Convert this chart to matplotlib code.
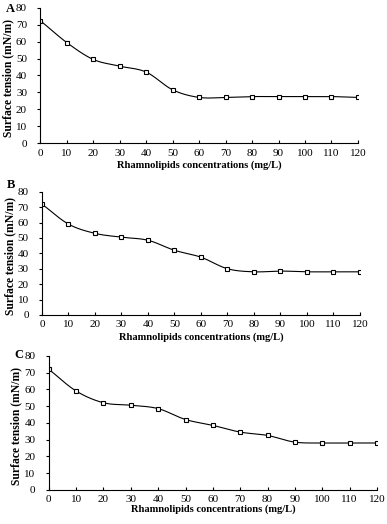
import numpy as np
import matplotlib.pyplot as plt
import matplotlib.transforms as mtransforms

plt.rcParams['font.family'] = ['Liberation Serif', 'DejaVu Serif']

conc = [0, 10, 20, 30, 40, 50, 60, 70, 80, 90, 100, 110, 120]
tension_a = [72.5, 59.5, 49.5, 45.5, 42, 31.5, 27, 27, 27.5, 27.5, 27.5, 27.5, 27]
tension_b = [72, 59, 53, 50.5, 48.5, 42, 37.5, 30, 28, 28.5, 28, 28, 28]
tension_c = [72, 59, 52, 50.5, 48.5, 42, 38.5, 34.5, 32.5, 28.5, 28, 28, 28]
panels = ['A', 'B', 'C']


def smooth(x, y, n=20):
    # Catmull-Rom through the points, like Excel's smoothed line
    x = np.asarray(x, float)
    y = np.asarray(y, float)
    px = np.concatenate([[2 * x[0] - x[1]], x, [2 * x[-1] - x[-2]]])
    py = np.concatenate([[2 * y[0] - y[1]], y, [2 * y[-1] - y[-2]]])
    xs, ys = [], []
    t = np.linspace(0, 1, n, endpoint=False)
    for i in range(1, len(px) - 2):
        for p, out in ((px, xs), (py, ys)):
            p0, p1, p2, p3 = p[i - 1], p[i], p[i + 1], p[i + 2]
            out.extend(0.5 * (2 * p1 + (-p0 + p2) * t
                              + (2 * p0 - 5 * p1 + 4 * p2 - p3) * t ** 2
                              + (-p0 + 3 * p1 - 3 * p2 + p3) * t ** 3))
    xs.append(x[-1])
    ys.append(y[-1])
    return xs, ys


fig = plt.figure(figsize=(3.87, 5.24), dpi=100)
rects = [[0.104, 0.727, 0.821, 0.258],
         [0.1085, 0.399, 0.8215, 0.235],
         [0.126, 0.065, 0.848, 0.256]]
label_pos = [(0.015, 0.995), (0.018, 0.659), (0.038, 0.334)]
xlabel_pads = [2, 2, 0]
ylabel_x = [0.036, 0.041, 0.058]

for rect, ys, name, lp, xpad, ylx in zip(rects, [tension_a, tension_b, tension_c],
                                         panels, label_pos, xlabel_pads, ylabel_x):
    ax = fig.add_axes(rect)
    sx, sy = smooth(conc, ys)
    ax.plot(sx, sy, color='black', lw=0.8)
    ax.errorbar(conc, ys, yerr=0.6, fmt='s', ms=3.2, mfc='white', mec='black',
                mew=0.8, ecolor='black', elinewidth=0.6, capsize=1.3)
    ax.set_xlim(0, 120)
    ax.set_ylim(0, 80)
    ax.set_xticks(conc)
    ax.set_yticks(range(0, 81, 10))
    ax.spines['top'].set_visible(False)
    ax.spines['right'].set_visible(False)
    ax.spines['left'].set_linewidth(0.8)
    ax.spines['bottom'].set_linewidth(0.8)
    ax.tick_params(labelsize=8, width=0.8)
    ax.tick_params(axis='x', direction='in', length=2.5, pad=4)
    ax.tick_params(axis='y', direction='out', length=2.5, pad=7)
    ax.set_xlabel('Rhamnolipids concentrations (mg/L)', fontsize=7.6,
                  fontweight='bold', labelpad=xpad)
    ax.set_ylabel('Surface tension (mN/m)', fontsize=8.4, fontweight='bold')
    trans = mtransforms.blended_transform_factory(fig.transFigure, ax.transAxes)
    ax.yaxis.set_label_coords(ylx, 0.48, transform=trans)
    fig.text(lp[0], lp[1], name, fontsize=9, fontweight='bold', va='top')

plt.savefig('out.png', dpi=100)
